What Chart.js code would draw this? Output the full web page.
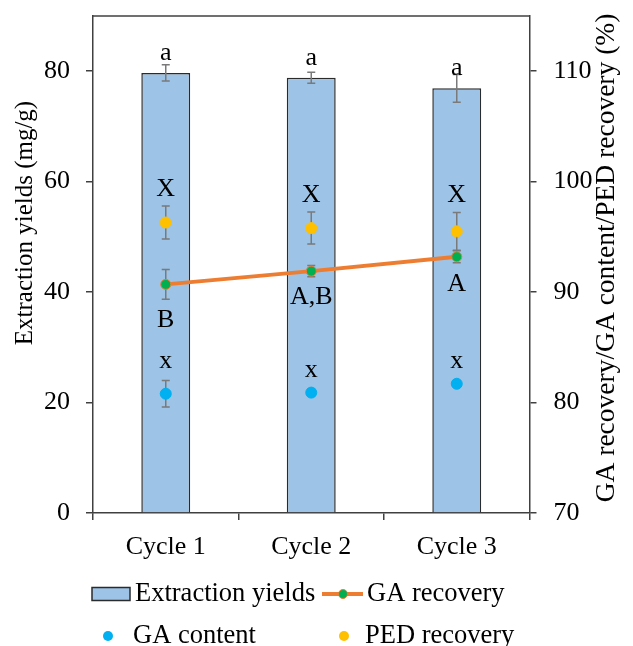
<!DOCTYPE html>
<html>
<head>
<meta charset="utf-8">
<script src="https://cdn.jsdelivr.net/npm/chart.js@4/dist/chart.umd.min.js"></script>
<style>
html, body { margin: 0; padding: 0; background: #fff; }
#wrap { width: 633px; height: 646px; position: relative; }
</style>
</head>
<body>
<div id="wrap"><canvas id="myChart"></canvas></div>
<script>
const cycles = ['Cycle 1', 'Cycle 2', 'Cycle 3'];

const extractionYields = [79.7, 78.8, 76.9];
const extractionErr = [1.45, 1.0, 2.5];
const gaRecovery = [90.7, 91.9, 93.2];
const gaRecoveryErr = [1.35, 0.5, 0.55];
const gaContent = [80.8, 80.9, 81.7];
const gaContentErr = [1.2, 0.3, 0.3];
const pedRecovery = [96.3, 95.8, 95.5];
const pedRecoveryErr = [1.5, 1.45, 1.7];

const yieldLetters = ['a', 'a', 'a'];
const pedLetters = ['X', 'X', 'X'];
const gaRecoveryLetters = ['B', 'A,B', 'A'];
const gaContentLetters = ['x', 'x', 'x'];

const leftTicks = [0, 20, 40, 60, 80];
const rightTicks = [70, 80, 90, 100, 110];

const leftTitle = 'Extraction yields (mg/g)';
const rightTitle = 'GA recovery/GA content/PED recovery (%)';

const serif = '"Liberation Serif", "Times New Roman", serif';
const axisColor = '#404040';

// error bars, drawn right after the bars so the points sit on top
const errorBars = {
    id: 'errorBars',
    afterDatasetDraw(chart, args) {
        if (args.index !== 0) return;
        const ctx = chart.ctx;
        ctx.save();
        ctx.strokeStyle = '#7a7a7a';
        ctx.lineWidth = 1.5;
        chart.data.datasets.forEach((ds, i) => {
            const meta = chart.getDatasetMeta(i);
            const scale = chart.scales[ds.yAxisID];
            meta.data.forEach((el, j) => {
                const v = ds.data[j], e = ds.errors[j];
                const x = el.x;
                const y1 = scale.getPixelForValue(v + e);
                const y2 = scale.getPixelForValue(v - e);
                ctx.beginPath();
                ctx.moveTo(x, y1); ctx.lineTo(x, y2);
                ctx.moveTo(x - 4, y1); ctx.lineTo(x + 4, y1);
                ctx.moveTo(x - 4, y2); ctx.lineTo(x + 4, y2);
                ctx.stroke();
            });
        });
        ctx.restore();
    }
};

// significance letters, frame top, axis titles, legend
const extras = {
    id: 'extras',
    afterDatasetsDraw(chart) {
        const ctx = chart.ctx;
        const ds = chart.data.datasets;
        const yL = chart.scales.y, yR = chart.scales.y1;
        ctx.save();
        ctx.fillStyle = '#000';
        ctx.font = '26px ' + serif;
        ctx.textAlign = 'center';
        ctx.textBaseline = 'middle';
        const bars = chart.getDatasetMeta(0).data;
        bars.forEach((el, j) => {
            const x = el.x;
            ctx.fillText(yieldLetters[j], x, yL.getPixelForValue(extractionYields[j]) - 20);
            ctx.fillText(pedLetters[j], x, yR.getPixelForValue(pedRecovery[j] + pedRecoveryErr[j]) - 17);
            ctx.fillText(gaRecoveryLetters[j], x, yR.getPixelForValue(gaRecovery[j] - gaRecoveryErr[j]) + 21);
            ctx.fillText(gaContentLetters[j], x, yR.getPixelForValue(gaContent[j] + gaContentErr[j]) - 19);
        });

        // top frame line
        const a = chart.chartArea;
        ctx.strokeStyle = axisColor;
        ctx.lineWidth = 1.5;
        ctx.beginPath();
        ctx.moveTo(a.left, a.top); ctx.lineTo(a.right, a.top);
        ctx.stroke();

        // axis titles, both read bottom to top
        ctx.save();
        ctx.font = '25px ' + serif;
        ctx.translate(25, 223);
        ctx.rotate(-Math.PI / 2);
        ctx.fillText(leftTitle, 0, 0);
        ctx.restore();
        ctx.save();
        ctx.font = '27.5px ' + serif;
        ctx.translate(607, 258);
        ctx.rotate(-Math.PI / 2);
        ctx.fillText(rightTitle, 0, 0);
        ctx.restore();

        // legend
        ctx.font = '26.5px ' + serif;
        ctx.textAlign = 'left';
        const r1 = 594, r2 = 636;
        ctx.fillStyle = ds[0].backgroundColor;
        ctx.fillRect(92, r1 - 6.5, 38, 13);
        ctx.strokeStyle = ds[0].borderColor;
        ctx.strokeRect(92, r1 - 6.5, 38, 13);
        ctx.fillStyle = '#000';
        ctx.fillText(ds[0].label, 135, r1);

        ctx.strokeStyle = ds[1].borderColor;
        ctx.lineWidth = 4;
        ctx.beginPath();
        ctx.moveTo(322, r1); ctx.lineTo(363, r1);
        ctx.stroke();
        ctx.beginPath();
        ctx.arc(343, r1, 4.5, 0, Math.PI * 2);
        ctx.fillStyle = ds[1].pointBackgroundColor;
        ctx.fill();
        ctx.lineWidth = 1;
        ctx.stroke();
        ctx.fillStyle = '#000';
        ctx.fillText(ds[1].label, 367, r1);

        ctx.beginPath();
        ctx.arc(108, r2, 5, 0, Math.PI * 2);
        ctx.fillStyle = ds[2].pointBackgroundColor;
        ctx.fill();
        ctx.fillStyle = '#000';
        ctx.fillText(ds[2].label, 133, r2);

        ctx.beginPath();
        ctx.arc(344, r2, 5, 0, Math.PI * 2);
        ctx.fillStyle = ds[3].pointBackgroundColor;
        ctx.fill();
        ctx.fillStyle = '#000';
        ctx.fillText(ds[3].label, 365, r2);
        ctx.restore();
    }
};

const config = {
    type: 'bar',
    data: {
        labels: cycles,
        datasets: [
            {
                type: 'bar',
                label: 'Extraction yields',
                data: extractionYields,
                errors: extractionErr,
                yAxisID: 'y',
                backgroundColor: '#9DC3E6',
                borderColor: '#2b2b2b',
                borderWidth: 1.5,
                barPercentage: 0.336,
                categoryPercentage: 1.0,
                order: 10
            },
            {
                type: 'line',
                label: 'GA recovery',
                data: gaRecovery,
                errors: gaRecoveryErr,
                yAxisID: 'y1',
                borderColor: '#ED7D31',
                borderWidth: 4,
                pointBackgroundColor: '#00B050',
                pointBorderColor: '#ED7D31',
                pointBorderWidth: 1,
                pointRadius: 5,
                fill: false,
                order: 3
            },
            {
                type: 'line',
                label: 'GA content',
                data: gaContent,
                errors: gaContentErr,
                yAxisID: 'y1',
                showLine: false,
                pointBackgroundColor: '#00B0F0',
                pointBorderColor: '#00B0F0',
                pointRadius: 5.5,
                order: 2
            },
            {
                type: 'line',
                label: 'PED recovery',
                data: pedRecovery,
                errors: pedRecoveryErr,
                yAxisID: 'y1',
                showLine: false,
                pointBackgroundColor: '#FFC000',
                pointBorderColor: '#FFC000',
                pointRadius: 5.5,
                order: 1
            }
        ]
    },
    options: {
        responsive: true,
        maintainAspectRatio: false,
        animation: false,
        layout: { padding: { top: 16, bottom: 81, left: 0, right: 0 } },
        plugins: {
            legend: { display: false },
            tooltip: { enabled: false }
        },
        scales: {
            x: {
                offset: true,
                grid: { display: true, drawOnChartArea: false, offset: true, tickLength: 7, color: axisColor, lineWidth: 1.5 },
                border: { color: axisColor, width: 1.5 },
                ticks: { font: { family: serif, size: 26 }, color: '#000', padding: 12 },
                afterFit(s) { s.height = 52; s.paddingLeft = 0; s.paddingRight = 0; }
            },
            y: {
                position: 'left',
                min: 0,
                max: 90,
                grid: { display: true, drawOnChartArea: false, tickLength: 7, color: axisColor, lineWidth: 1.5 },
                border: { color: axisColor, width: 1.5 },
                ticks: { stepSize: 20, font: { family: serif, size: 26 }, color: '#000', padding: 16 },
                afterBuildTicks(s) { s.ticks = leftTicks.map(v => ({ value: v })); },
                afterFit(s) { s.width = 93; s.paddingTop = 0; s.paddingBottom = 0; }
            },
            y1: {
                position: 'right',
                min: 70,
                max: 115,
                grid: { display: true, drawOnChartArea: false, tickLength: 7, color: axisColor, lineWidth: 1.5 },
                border: { color: axisColor, width: 1.5 },
                ticks: { stepSize: 10, font: { family: serif, size: 26 }, color: '#000', padding: 17 },
                afterBuildTicks(s) { s.ticks = rightTicks.map(v => ({ value: v })); },
                afterFit(s) { s.width = 103.5; s.paddingTop = 0; s.paddingBottom = 0; }
            }
        }
    },
    plugins: [errorBars, extras]
};

new Chart(document.getElementById('myChart'), config);
</script>
</body>
</html>
